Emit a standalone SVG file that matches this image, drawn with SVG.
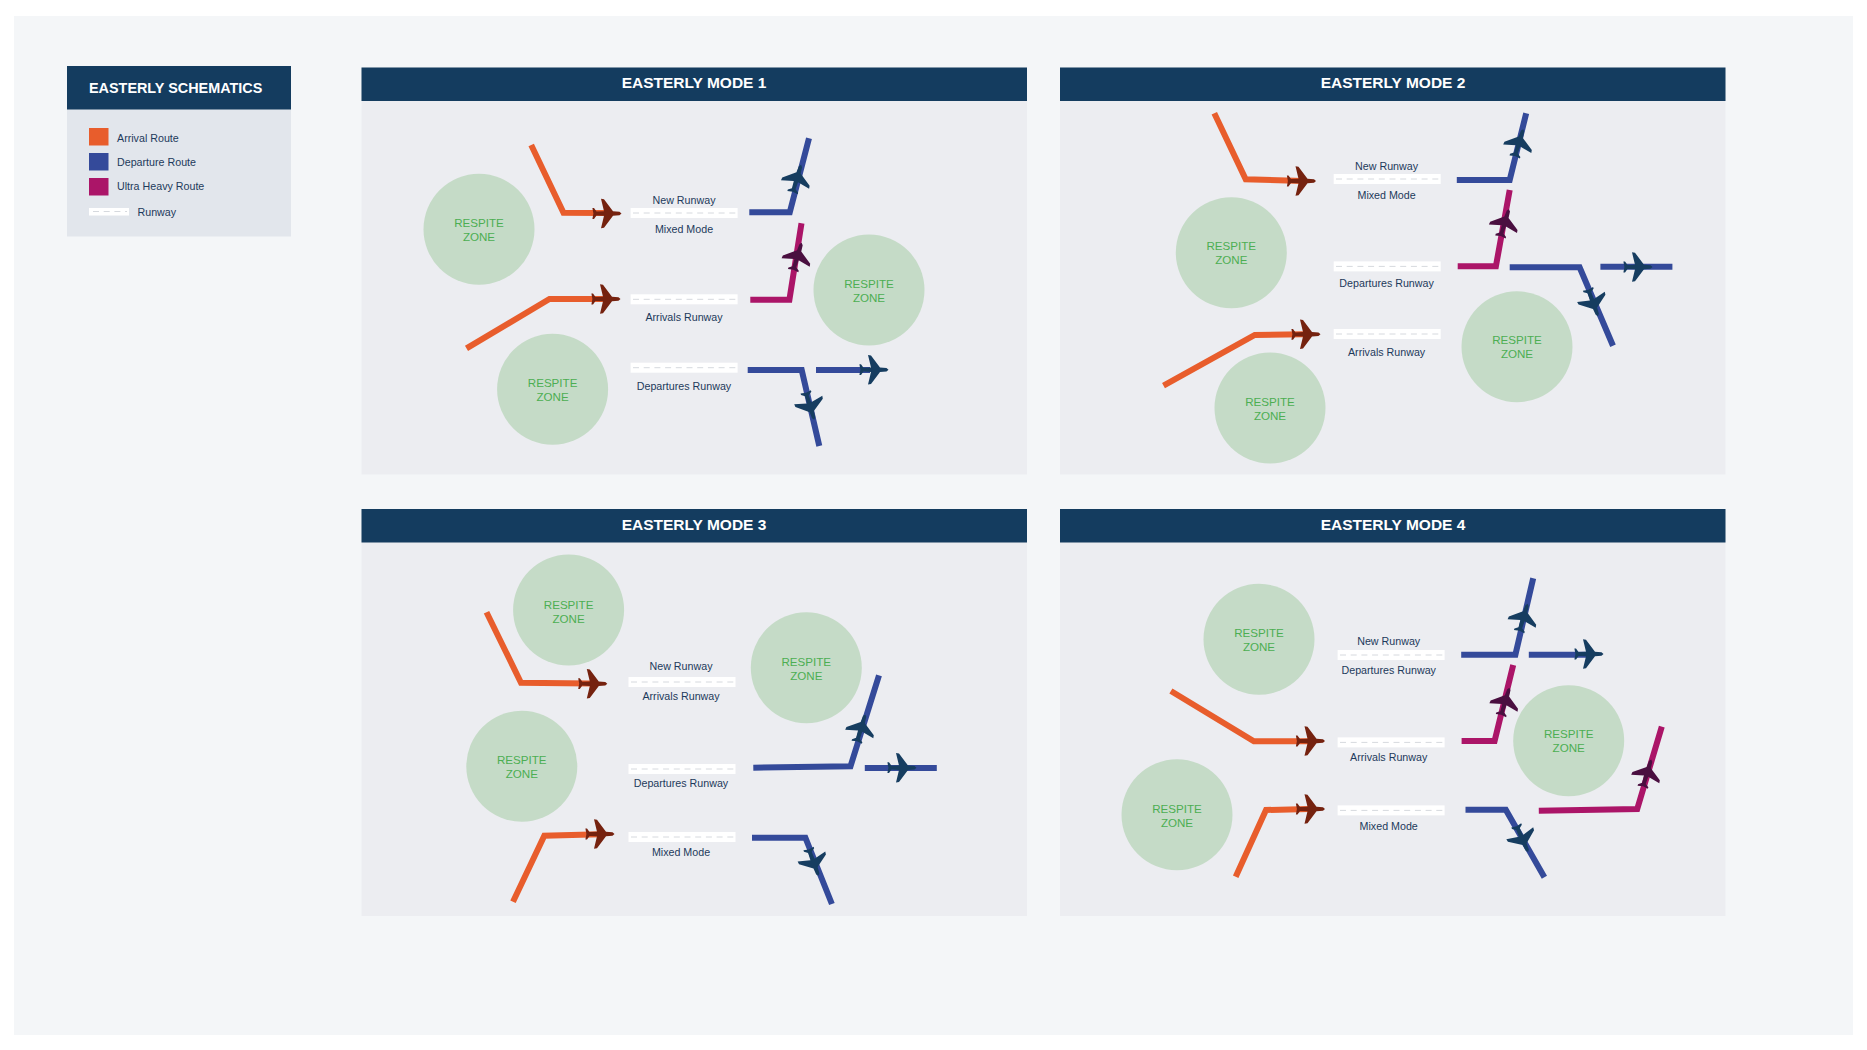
<svg xmlns="http://www.w3.org/2000/svg" xmlns:xlink="http://www.w3.org/1999/xlink" width="1867" height="1050" viewBox="0 0 1867 1050">
<style>
text{font-family:"Liberation Sans",Arial,sans-serif}
.hd{fill:#143c5f}
.panel{fill:#ecedf1}
.ttl{fill:#fff;font-weight:700;font-size:15.5px;text-anchor:middle}
.zone{fill:#c5dbc7}
.zt{fill:#4cae52;font-size:11.6px;text-anchor:middle}
.rw{fill:#fff}
.dash{stroke:#d6d9de;stroke-width:1;stroke-dasharray:6 4.7;fill:none}
.lb{fill:#1d3a5b;font-size:10.7px;text-anchor:middle}
.lg{fill:#1d3a5b;font-size:10.7px}
.r{fill:none;stroke-width:6;stroke-linejoin:miter;stroke-miterlimit:10}
.a{stroke:#e85d2c}
.d{stroke:#344a9a}
.u{stroke:#ab1568}
.pa{fill:#75220f}
.pd{fill:#163d60}
.pu{fill:#4a0f40}
</style>
<defs>
<path id="plane" d="M14.5,0 L12.5,-1.7 L6,-2.2 L-3,-14.3 L-6,-14.7 L-3,-2.2 L-10.5,-1.9 L-13,-5.4 L-14.6,-5.4 L-13.6,0 L-14.6,5.4 L-13,5.4 L-10.5,1.9 L-3,2.2 L-6,14.7 L-3,14.3 L6,2.2 L12.5,1.7 Z"/>
</defs>
<rect width="1867" height="1050" fill="#ffffff"/>
<rect x="14" y="16" width="1839" height="1019" fill="#f4f6f8"/>

<g id="legend">
<rect x="67" y="66" width="224" height="170.5" fill="#e2e6ec"/>
<rect class="hd" x="67" y="66" width="224" height="43.5"/>
<text x="89" y="93" fill="#fff" font-weight="700" font-size="14.4">EASTERLY SCHEMATICS</text>
<rect x="89" y="128" width="19.5" height="17.5" fill="#e85d2c"/>
<rect x="89" y="153" width="19.5" height="17.5" fill="#344a9a"/>
<rect x="89" y="178" width="19.5" height="17.5" fill="#ab1568"/>
<rect class="rw" x="89" y="208" width="40" height="7.5"/>
<line class="dash" x1="93" y1="211.5" x2="127" y2="211.5"/>
<text class="lg" x="117" y="141.5">Arrival Route</text>
<text class="lg" x="117" y="166">Departure Route</text>
<text class="lg" x="117" y="190">Ultra Heavy Route</text>
<text class="lg" x="137.5" y="216">Runway</text>
</g>

<g id="mode1-panel"><rect class="panel" x="361.5" y="67.5" width="665.5" height="407"/><rect class="hd" x="361.5" y="67.5" width="665.5" height="33.5"/><text class="ttl" x="694" y="88">EASTERLY MODE 1</text></g>
<g id="mode2-panel"><rect class="panel" x="1060" y="67.5" width="665.5" height="407"/><rect class="hd" x="1060" y="67.5" width="665.5" height="33.5"/><text class="ttl" x="1393" y="88">EASTERLY MODE 2</text></g>
<g id="mode3-panel"><rect class="panel" x="361.5" y="509" width="665.5" height="407"/><rect class="hd" x="361.5" y="509" width="665.5" height="33.5"/><text class="ttl" x="694" y="530">EASTERLY MODE 3</text></g>
<g id="mode4-panel"><rect class="panel" x="1060" y="509" width="665.5" height="407"/><rect class="hd" x="1060" y="509" width="665.5" height="33.5"/><text class="ttl" x="1393" y="530">EASTERLY MODE 4</text></g>

<g id="m1-zone1"><circle class="zone" cx="479" cy="229.3" r="55.5"/><text class="zt" x="479" y="226.7">RESPITE</text><text class="zt" x="479" y="240.7">ZONE</text></g>
<g id="m1-zone2"><circle class="zone" cx="869" cy="290" r="55.5"/><text class="zt" x="869" y="288">RESPITE</text><text class="zt" x="869" y="302">ZONE</text></g>
<g id="m1-zone3"><circle class="zone" cx="552.6" cy="389.3" r="55.5"/><text class="zt" x="552.6" y="387">RESPITE</text><text class="zt" x="552.6" y="401">ZONE</text></g>
<g id="m2-zone1"><circle class="zone" cx="1231.3" cy="252.7" r="55.5"/><text class="zt" x="1231.3" y="250.2">RESPITE</text><text class="zt" x="1231.3" y="264.2">ZONE</text></g>
<g id="m2-zone2"><circle class="zone" cx="1517" cy="346.7" r="55.5"/><text class="zt" x="1517" y="344">RESPITE</text><text class="zt" x="1517" y="358">ZONE</text></g>
<g id="m2-zone3"><circle class="zone" cx="1270" cy="408" r="55.5"/><text class="zt" x="1270" y="405.7">RESPITE</text><text class="zt" x="1270" y="419.7">ZONE</text></g>
<g id="m3-zone1"><circle class="zone" cx="568.6" cy="610" r="55.5"/><text class="zt" x="568.6" y="609">RESPITE</text><text class="zt" x="568.6" y="623">ZONE</text></g>
<g id="m3-zone2"><circle class="zone" cx="806.3" cy="667.7" r="55.5"/><text class="zt" x="806.3" y="666">RESPITE</text><text class="zt" x="806.3" y="680">ZONE</text></g>
<g id="m3-zone3"><circle class="zone" cx="521.8" cy="766.3" r="55.5"/><text class="zt" x="521.8" y="764">RESPITE</text><text class="zt" x="521.8" y="778">ZONE</text></g>
<g id="m4-zone1"><circle class="zone" cx="1259" cy="639.3" r="55.5"/><text class="zt" x="1259" y="637">RESPITE</text><text class="zt" x="1259" y="651">ZONE</text></g>
<g id="m4-zone2"><circle class="zone" cx="1568.7" cy="740.7" r="55.5"/><text class="zt" x="1568.7" y="738.2">RESPITE</text><text class="zt" x="1568.7" y="752.2">ZONE</text></g>
<g id="m4-zone3"><circle class="zone" cx="1177" cy="814.7" r="55.5"/><text class="zt" x="1177" y="812.5">RESPITE</text><text class="zt" x="1177" y="826.5">ZONE</text></g>

<g id="m1-runway1"><rect class="rw" x="630.6" y="208" width="107" height="10"/><line class="dash" x1="633" y1="213" x2="736" y2="213"/><text class="lb" x="684" y="204">New Runway</text><text class="lb" x="684" y="233">Mixed Mode</text></g>
<g id="m1-runway2"><rect class="rw" x="630.6" y="294.3" width="107" height="10"/><line class="dash" x1="633" y1="299.3" x2="736" y2="299.3"/><text class="lb" x="684" y="321">Arrivals Runway</text></g>
<g id="m1-runway3"><rect class="rw" x="630.6" y="362.7" width="107" height="10"/><line class="dash" x1="633" y1="367.7" x2="736" y2="367.7"/><text class="lb" x="684" y="390">Departures Runway</text></g>
<g id="m2-runway1"><rect class="rw" x="1333.7" y="174" width="107" height="10"/><line class="dash" x1="1336" y1="179" x2="1439" y2="179"/><text class="lb" x="1386.6" y="170">New Runway</text><text class="lb" x="1386.6" y="199">Mixed Mode</text></g>
<g id="m2-runway2"><rect class="rw" x="1333.7" y="261.4" width="107" height="10"/><line class="dash" x1="1336" y1="266.4" x2="1439" y2="266.4"/><text class="lb" x="1386.6" y="286.7">Departures Runway</text></g>
<g id="m2-runway3"><rect class="rw" x="1333.7" y="329" width="107" height="10"/><line class="dash" x1="1336" y1="334" x2="1439" y2="334"/><text class="lb" x="1386.6" y="355.7">Arrivals Runway</text></g>
<g id="m3-runway1"><rect class="rw" x="628.5" y="677" width="107" height="10"/><line class="dash" x1="631" y1="682" x2="734" y2="682"/><text class="lb" x="681" y="670">New Runway</text><text class="lb" x="681" y="699.7">Arrivals Runway</text></g>
<g id="m3-runway2"><rect class="rw" x="628.5" y="764" width="107" height="10"/><line class="dash" x1="631" y1="769" x2="734" y2="769"/><text class="lb" x="681" y="787">Departures Runway</text></g>
<g id="m3-runway3"><rect class="rw" x="628.5" y="832" width="107" height="10"/><line class="dash" x1="631" y1="837" x2="734" y2="837"/><text class="lb" x="681" y="856">Mixed Mode</text></g>
<g id="m4-runway1"><rect class="rw" x="1337.6" y="650" width="107" height="10"/><line class="dash" x1="1340" y1="655" x2="1443" y2="655"/><text class="lb" x="1388.7" y="644.7">New Runway</text><text class="lb" x="1388.7" y="674">Departures Runway</text></g>
<g id="m4-runway2"><rect class="rw" x="1337.6" y="737.4" width="107" height="10"/><line class="dash" x1="1340" y1="742.4" x2="1443" y2="742.4"/><text class="lb" x="1388.7" y="761">Arrivals Runway</text></g>
<g id="m4-runway3"><rect class="rw" x="1337.6" y="805.4" width="107" height="10"/><line class="dash" x1="1340" y1="810.4" x2="1443" y2="810.4"/><text class="lb" x="1388.7" y="830">Mixed Mode</text></g>

<g id="connectors">
<polyline class="r a" points="531.2,145 563.5,212.7 605,213"/>
<polyline class="r a" points="466.5,348.3 549.5,299 605,299"/>
<polyline class="r d" points="749.3,212.3 789.8,212.3 809,138.3"/>
<polyline class="r u" points="750.3,299.7 789.4,299.7 801.5,223.3"/>
<polyline class="r d" points="747.7,370 801.7,370 819.3,446"/>
<polyline class="r d" points="816,370 870,370"/>

<polyline class="r a" points="1214.3,113.3 1245.7,179.3 1303,181"/>
<polyline class="r a" points="1163.5,385.7 1254.8,335 1303,334.3"/>
<polyline class="r d" points="1456.8,180 1509.7,180 1526.2,113.3"/>
<polyline class="r u" points="1457.7,266.3 1495.9,266.3 1509.7,190"/>
<polyline class="r d" points="1509.7,267.3 1579.6,267.3 1613,345.7"/>
<polyline class="r d" points="1600.4,266.7 1672.4,266.7"/>

<polyline class="r a" points="486.5,612.3 521,682.7 590,683.5"/>
<polyline class="r a" points="513,901.7 544.3,835.7 600,834.3"/>
<polyline class="r d" points="753.3,767.7 850.5,766.3 879,675.3"/>
<polyline class="r d" points="864.8,768 936.8,768"/>
<polyline class="r d" points="752,837.7 805.4,837.7 831.9,904"/>

<polyline class="r a" points="1170.9,691 1253.9,741.3 1310,741.3"/>
<polyline class="r a" points="1235.7,876.7 1266,810 1309,809"/>
<polyline class="r d" points="1461.2,654.7 1515.4,654.7 1533.2,578.3"/>
<polyline class="r d" points="1528.8,654.7 1588,654.7"/>
<polyline class="r u" points="1461.6,741 1494.6,741 1513.2,665"/>
<polyline class="r u" points="1538.8,810.7 1637.2,809 1661.8,726.7"/>
<polyline class="r d" points="1465.5,809.7 1505.8,809.7 1544.4,877.3"/>
</g>

<g id="m1-plane1"><use href="#plane" class="pa" transform="translate(607,213.5)"/></g>
<g id="m1-plane2"><use href="#plane" class="pa" transform="translate(606,299)"/></g>
<g id="m1-plane3"><use href="#plane" class="pd" transform="translate(796.8,178.7) rotate(-73)"/></g>
<g id="m1-plane4"><use href="#plane" class="pu" transform="translate(797.4,256.7) rotate(-73)"/></g>
<g id="m1-plane5"><use href="#plane" class="pd" transform="translate(810,405.8) rotate(73)"/></g>
<g id="m1-plane6"><use href="#plane" class="pd" transform="translate(874,369.7)"/></g>

<g id="m2-plane1"><use href="#plane" class="pa" transform="translate(1301.5,181)"/></g>
<g id="m2-plane2"><use href="#plane" class="pa" transform="translate(1306,334.3)"/></g>
<g id="m2-plane3"><use href="#plane" class="pd" transform="translate(1519,143) rotate(-73)"/></g>
<g id="m2-plane4"><use href="#plane" class="pu" transform="translate(1504.7,223) rotate(-73)"/></g>
<g id="m2-plane5"><use href="#plane" class="pd" transform="translate(1593,302.5) rotate(70)"/></g>
<g id="m2-plane6"><use href="#plane" class="pd" transform="translate(1638,267)"/></g>

<g id="m3-plane1"><use href="#plane" class="pa" transform="translate(592.8,683.7)"/></g>
<g id="m3-plane2"><use href="#plane" class="pa" transform="translate(600,834)"/></g>
<g id="m3-plane3"><use href="#plane" class="pd" transform="translate(861,728.3) rotate(-73)"/></g>
<g id="m3-plane4"><use href="#plane" class="pd" transform="translate(902,767.7)"/></g>
<g id="m3-plane5"><use href="#plane" class="pd" transform="translate(813.5,862.2) rotate(70)"/></g>

<g id="m4-plane1"><use href="#plane" class="pa" transform="translate(1310.5,741)"/></g>
<g id="m4-plane2"><use href="#plane" class="pa" transform="translate(1310.5,809)"/></g>
<g id="m4-plane3"><use href="#plane" class="pd" transform="translate(1523.4,617.7) rotate(-73)"/></g>
<g id="m4-plane4"><use href="#plane" class="pd" transform="translate(1589,654)"/></g>
<g id="m4-plane5"><use href="#plane" class="pu" transform="translate(1505.2,701.7) rotate(-73)"/></g>
<g id="m4-plane6"><use href="#plane" class="pu" transform="translate(1647,773.3) rotate(-73)"/></g>
<g id="m4-plane7"><use href="#plane" class="pd" transform="translate(1522.2,838.7) rotate(66)"/></g>
</svg>
